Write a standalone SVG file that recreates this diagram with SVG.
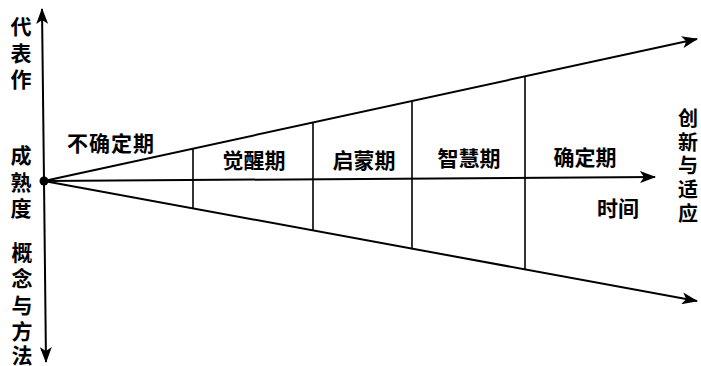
<svg xmlns="http://www.w3.org/2000/svg" width="701" height="366" viewBox="0 0 701 366">
<style>
.t{font-family:"Noto Sans CJK SC","Noto Sans",sans-serif;font-size:21px;font-weight:bold;fill:#000;dominant-baseline:central;text-anchor:middle}
.l{stroke:#000;stroke-width:2;fill:none}
.d{stroke:#000;stroke-width:1.6;fill:none}
</style>
<defs>
<marker id="ah" viewBox="0 0 16 12" refX="15" refY="6" markerWidth="16" markerHeight="12" markerUnits="userSpaceOnUse" orient="auto">
<path d="M0,0 L16,6 L0,12 L4,6 Z" fill="#000"/>
</marker>
</defs>
<rect width="701" height="366" fill="#fff"/>
<g id="connectors">
<line class="l" x1="44" y1="181" x2="42" y2="9" marker-end="url(#ah)"/>
<line class="l" x1="44" y1="181" x2="46" y2="362" marker-end="url(#ah)"/>
<line class="l" x1="44" y1="181" x2="697" y2="39" marker-end="url(#ah)"/>
<line class="l" x1="44" y1="181" x2="697" y2="301" marker-end="url(#ah)"/>
<line class="l" x1="44" y1="181" x2="655" y2="177" marker-end="url(#ah)"/>
<line class="d" x1="193" y1="149" x2="193" y2="209"/>
<line class="d" x1="313" y1="123" x2="313" y2="231"/>
<line class="d" x1="412" y1="101" x2="412" y2="249"/>
<line class="d" x1="525" y1="76" x2="525" y2="270"/>
<circle cx="44" cy="181" r="4.5" fill="#000"/>
</g>
<g id="axis-top-label"><text class="t"><tspan x="21" y="25">代</tspan><tspan x="21" y="52">表</tspan><tspan x="21" y="78">作</tspan></text></g>
<g id="axis-mid-label"><text class="t"><tspan x="21" y="154">成</tspan><tspan x="21" y="181">熟</tspan><tspan x="21" y="207">度</tspan></text></g>
<g id="axis-bottom-label"><text class="t"><tspan x="22" y="251">概</tspan><tspan x="22" y="277">念</tspan><tspan x="22" y="304">与</tspan><tspan x="22" y="330">方</tspan><tspan x="22" y="354">法</tspan></text></g>
<g id="right-label"><text class="t" style="font-size:20px"><tspan x="688" y="117">创</tspan><tspan x="688" y="141">新</tspan><tspan x="688" y="164">与</tspan><tspan x="688" y="188">适</tspan><tspan x="688" y="212">应</tspan></text></g>
<g id="phase1"><text class="t" x="111" y="142" style="letter-spacing:1px">不确定期</text></g>
<g id="phase2"><text class="t" x="254" y="159">觉醒期</text></g>
<g id="phase3"><text class="t" x="364" y="159">启蒙期</text></g>
<g id="phase4"><text class="t" x="469" y="157">智慧期</text></g>
<g id="phase5"><text class="t" x="585" y="156">确定期</text></g>
<g id="time-label"><text class="t" x="618" y="207">时间</text></g>
</svg>
